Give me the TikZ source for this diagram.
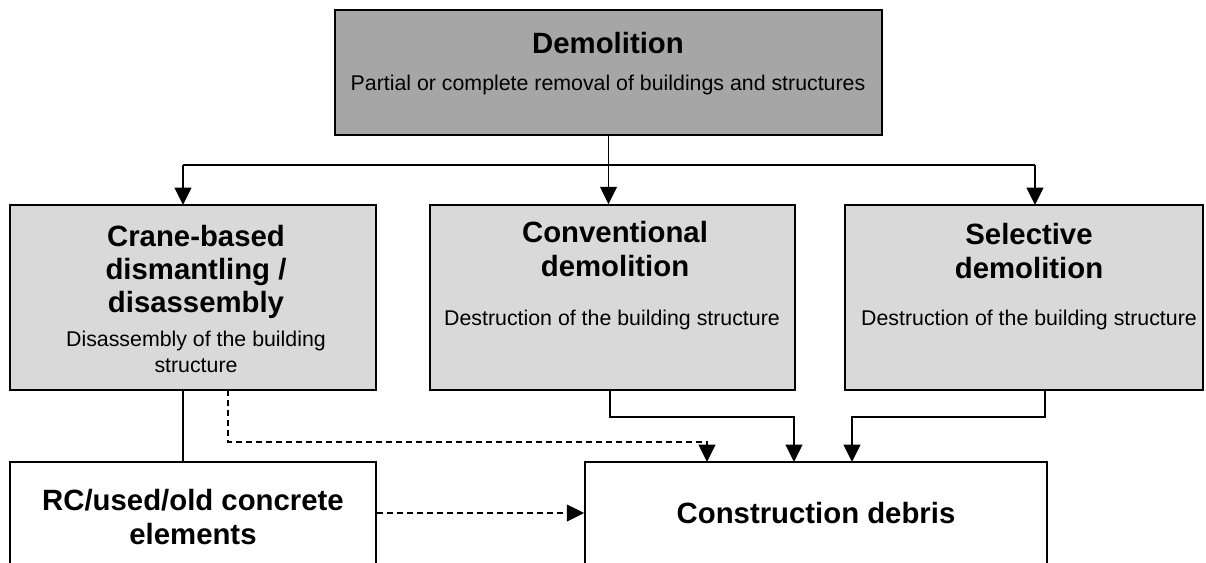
\documentclass[tikz,border=0pt]{standalone}
\usepackage{fontspec}
\setmainfont{Liberation Sans}
\usetikzlibrary{arrows.meta}
\definecolor{topgray}{HTML}{A6A6A6}
\definecolor{midgray}{HTML}{D9D9D9}
\begin{document}
\begin{tikzpicture}[x=0.75pt,y=-0.75pt,
  box/.style={draw=black, line width=1.2pt, rectangle, inner sep=0pt},
  ttl/.style={font=\bfseries\fontsize{22}{25}\selectfont, align=center, inner sep=0pt},
  sub/.style={font=\fontsize{16}{19}\selectfont, align=center, inner sep=0pt},
  conn/.style={line width=1.25pt},
  arr/.style={conn, -{Triangle[length=13pt,width=12.5pt]}},
  dsh/.style={dash pattern=on 4.5pt off 3pt}]
\useasboundingbox (0,0) rectangle (1206,562);
\clip (0,0) rectangle (1206,562);

% boxes
\node[box, fill=topgray, minimum width=410.25pt, minimum height=93.75pt] (demol) at (608.5,72.5) {};
\node[box, fill=midgray, minimum width=274.5pt, minimum height=138.75pt] (crane) at (193,297.5) {};
\node[box, fill=midgray, minimum width=273.75pt, minimum height=138.75pt] (conv) at (612.5,297.5) {};
\node[box, fill=midgray, minimum width=268.5pt, minimum height=138.75pt] (sel) at (1024,297.5) {};
\node[box, fill=white, minimum width=274.5pt, minimum height=103.5pt] (rc) at (193,531) {};
\node[box, fill=white, minimum width=346.5pt, minimum height=103.5pt] (deb) at (816,531) {};

% texts
\node[ttl] (demolT) at (608,43) {Demolition};
\node[sub] (demolS) at (608,85) {Partial or complete removal of buildings and structures};
\node[ttl] (craneT) at (196,272) {Crane-based\\dismantling /\\disassembly};
\node[sub] (craneS) at (196,352) {Disassembly of the building\\structure};
\node[ttl] (convT) at (615,249) {Conventional\\demolition};
\node[sub] (convS) at (612,320) {Destruction of the building structure};
\node[ttl] (selT) at (1029,251) {Selective\\demolition};
\node[sub] (selS) at (1029,320) {Destruction of the building structure};
\node[ttl] (rcT) at (193,517) {RC/used/old concrete\\elements};
\node[ttl] (debT) at (816,513) {Construction debris};

% connector coordinates
\coordinate (hub) at (608.5,165);
\coordinate (hubL) at (183,165);
\coordinate (hubR) at (1035,165);
\coordinate (craneIn) at (183,205);
\coordinate (selIn) at (1035,205);
\coordinate (craneOut) at (183,390);
\coordinate (rcIn) at (183,462);
\coordinate (dashOut) at (228,390);
\coordinate (dashTurn) at (228,442);
\coordinate (dashIn) at (707,462);
\coordinate (convOut) at (610,390);
\coordinate (convIn) at (794,462);
\coordinate (selOut) at (1045,390);
\coordinate (selIn2) at (852,462);

% top tree
\draw[conn] (demol.south) -- (hub);
\draw[conn] (hubL) -- (hubR);
\draw[arr] (hubL) -- (craneIn);
\draw[arr] (hub) -- (conv.north -| hub);
\draw[arr] (hubR) -- (selIn);

% lower connectors
\draw[conn] (craneOut) -- (rcIn);
\draw[arr, dsh] (dashOut) -- (dashTurn) -| (dashIn);
\draw[arr] (convOut) |- (702,417) -| (convIn);
\draw[arr] (selOut) |- (948.5,417) -| (selIn2);
\draw[arr, dsh] (rc.east |- 0,513) -- (deb.west |- 0,513);
\end{tikzpicture}
\end{document}
